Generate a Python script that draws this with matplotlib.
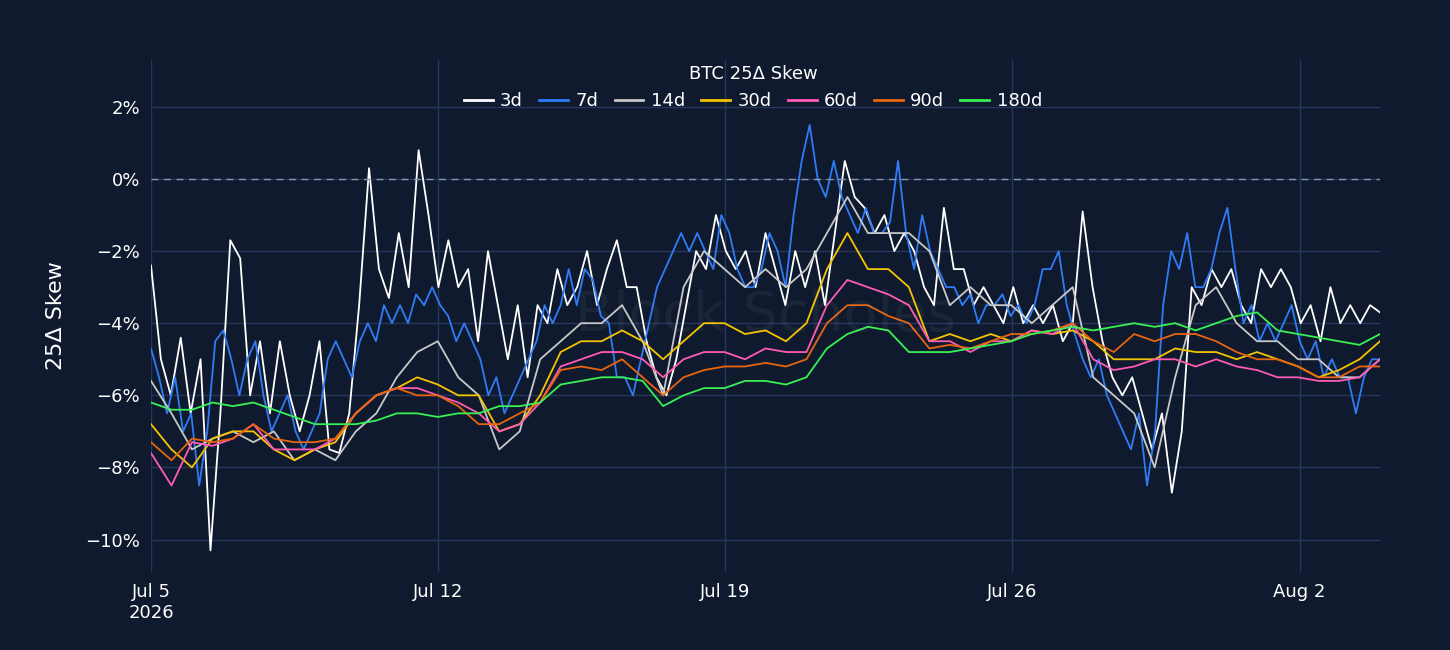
import matplotlib
matplotlib.use('Agg')
import numpy as np
import pandas as pd
import matplotlib.pyplot as plt
import matplotlib.dates as mdates
from matplotlib.ticker import FuncFormatter

start = pd.Timestamp('2026-07-05 00:00')
end = pd.Timestamp('2026-08-03 23:00')

s3d = [-2.4,-5.0,-6.0,-4.4,-6.5,-5.0,-10.3,-6.5,-1.7,-2.2,-6.0,-4.5,-6.5,-4.5,-6.0,-7.0,-6.0,-4.5,-7.5,-7.6,
       -6.5,-3.5,0.3,-2.5,-3.3,-1.5,-3.0,0.8,-1.0,-3.0,-1.7,-3.0,-2.5,-4.5,-2.0,-3.5,-5.0,-3.5,-5.5,-3.5,
       -4.0,-2.5,-3.5,-3.0,-2.0,-3.5,-2.5,-1.7,-3.0,-3.0,-4.5,-5.5,-6.0,-5.0,-3.5,-2.0,-2.5,-1.0,-2.0,-2.5,
       -2.0,-3.0,-1.5,-2.5,-3.5,-2.0,-3.0,-2.0,-3.5,-1.5,0.5,-0.5,-0.8,-1.5,-1.0,-2.0,-1.5,-2.0,-3.0,-3.5,
       -0.8,-2.5,-2.5,-3.5,-3.0,-3.5,-4.0,-3.0,-4.0,-3.5,-4.0,-3.5,-4.5,-4.0,-0.9,-3.0,-4.5,-5.5,-6.0,-5.5,
       -6.5,-7.5,-6.5,-8.7,-7.0,-3.0,-3.5,-2.5,-3.0,-2.5,-3.5,-4.0,-2.5,-3.0,-2.5,-3.0,-4.0,-3.5,-4.5,-3.0,
       -4.0,-3.5,-4.0,-3.5,-3.7]
s7d = [-4.7,-5.5,-6.5,-5.5,-7.0,-6.5,-8.5,-7.0,-4.5,-4.2,-5.0,-6.0,-5.0,-4.5,-6.0,-7.0,-6.5,-6.0,-7.0,-7.5,
       -7.0,-6.5,-5.0,-4.5,-5.0,-5.5,-4.5,-4.0,-4.5,-3.5,-4.0,-3.5,-4.0,-3.2,-3.5,-3.0,-3.5,-3.8,-4.5,-4.0,
       -4.5,-5.0,-6.0,-5.5,-6.5,-6.0,-5.5,-5.0,-4.5,-3.5,-4.0,-3.5,-2.5,-3.5,-2.5,-2.8,-3.8,-4.0,-5.5,-5.5,
       -6.0,-5.0,-4.0,-3.0,-2.5,-2.0,-1.5,-2.0,-1.5,-2.0,-2.5,-1.0,-1.5,-2.5,-3.0,-3.0,-2.5,-1.5,-2.0,-3.0,
       -1.0,0.5,1.5,0.0,-0.5,0.5,-0.5,-1.0,-1.5,-0.8,-1.5,-1.5,-1.2,0.5,-1.5,-2.5,-1.0,-2.0,-2.5,-3.0,
       -3.0,-3.5,-3.2,-4.0,-3.5,-3.5,-3.2,-3.8,-3.5,-4.0,-3.5,-2.5,-2.5,-2.0,-3.5,-4.3,-5.0,-5.5,-5.0,-6.0,
       -6.5,-7.0,-7.5,-6.5,-8.5,-7.0,-3.5,-2.0,-2.5,-1.5,-3.0,-3.0,-2.5,-1.5,-0.8,-2.5,-4.0,-3.5,-4.5,-4.0,
       -4.5,-4.0,-3.5,-4.5,-5.0,-4.5,-5.5,-5.0,-5.5,-5.5,-6.5,-5.5,-5.0,-5.0]
s14d = [-5.6,-6.5,-7.5,-7.2,-7.0,-7.3,-7.0,-7.8,-7.5,-7.8,-7.0,-6.5,-5.5,-4.8,-4.5,-5.5,-6.0,-7.5,-7.0,-5.0,
        -4.5,-4.0,-4.0,-3.5,-4.5,-6.0,-3.0,-2.0,-2.5,-3.0,-2.5,-3.0,-2.5,-1.5,-0.5,-1.5,-1.5,-1.5,-2.0,-3.5,
        -3.0,-3.5,-3.5,-4.0,-3.5,-3.0,-5.5,-6.0,-6.5,-8.0,-5.5,-3.5,-3.0,-4.0,-4.5,-4.5,-5.0,-5.0,-5.5,-5.5,-5.0]
s30d = [-6.8,-7.5,-8.0,-7.2,-7.0,-7.0,-7.5,-7.8,-7.5,-7.3,-6.5,-6.0,-5.8,-5.5,-5.7,-6.0,-6.0,-7.0,-6.8,-6.0,
        -4.8,-4.5,-4.5,-4.2,-4.5,-5.0,-4.5,-4.0,-4.0,-4.3,-4.2,-4.5,-4.0,-2.5,-1.5,-2.5,-2.5,-3.0,-4.5,-4.3,
        -4.5,-4.3,-4.5,-4.2,-4.3,-4.2,-4.5,-5.0,-5.0,-5.0,-4.7,-4.8,-4.8,-5.0,-4.8,-5.0,-5.2,-5.5,-5.3,-5.0,-4.5]
s60d = [-7.6,-8.5,-7.3,-7.4,-7.2,-6.8,-7.5,-7.5,-7.5,-7.2,-6.5,-6.0,-5.8,-5.8,-6.0,-6.2,-6.5,-7.0,-6.8,-6.2,
        -5.2,-5.0,-4.8,-4.8,-5.0,-5.5,-5.0,-4.8,-4.8,-5.0,-4.7,-4.8,-4.8,-3.5,-2.8,-3.0,-3.2,-3.5,-4.5,-4.5,
        -4.8,-4.5,-4.5,-4.2,-4.3,-4.0,-5.0,-5.3,-5.2,-5.0,-5.0,-5.2,-5.0,-5.2,-5.3,-5.5,-5.5,-5.6,-5.6,-5.5,-5.0]
s90d = [-7.3,-7.8,-7.2,-7.3,-7.2,-6.8,-7.2,-7.3,-7.3,-7.2,-6.5,-6.0,-5.8,-6.0,-6.0,-6.3,-6.8,-6.8,-6.5,-6.2,
        -5.3,-5.2,-5.3,-5.0,-5.5,-6.0,-5.5,-5.3,-5.2,-5.2,-5.1,-5.2,-5.0,-4.0,-3.5,-3.5,-3.8,-4.0,-4.7,-4.6,
        -4.7,-4.5,-4.3,-4.3,-4.2,-4.0,-4.5,-4.8,-4.3,-4.5,-4.3,-4.3,-4.5,-4.8,-5.0,-5.0,-5.2,-5.5,-5.5,-5.2,-5.2]
s180d = [-6.2,-6.4,-6.4,-6.2,-6.3,-6.2,-6.4,-6.6,-6.8,-6.8,-6.8,-6.7,-6.5,-6.5,-6.6,-6.5,-6.5,-6.3,-6.3,-6.2,
         -5.7,-5.6,-5.5,-5.5,-5.6,-6.3,-6.0,-5.8,-5.8,-5.6,-5.6,-5.7,-5.5,-4.7,-4.3,-4.1,-4.2,-4.8,-4.8,-4.8,
         -4.7,-4.6,-4.5,-4.3,-4.2,-4.1,-4.2,-4.1,-4.0,-4.1,-4.0,-4.2,-4.0,-3.8,-3.7,-4.2,-4.3,-4.4,-4.5,-4.6,-4.3]

series = [('3d', s3d, '#ffffff'), ('7d', s7d, '#2f7cf6'), ('14d', s14d, '#c8c8c8'),
          ('30d', s30d, '#f5c400'), ('60d', s60d, '#ff5ab4'), ('90d', s90d, '#e8650f'),
          ('180d', s180d, '#39f054')]

bg = '#0f1a2e'
fig = plt.figure(figsize=(14.5, 6.5), dpi=100, facecolor=bg)
ax = fig.add_axes([151/1450, 1-572/650, (1380-151)/1450, 512/650], facecolor=bg)

for name, vals, col in series:
    t = pd.date_range(start, end, periods=len(vals))
    ax.plot(t, vals, color=col, lw=1.3, label=name)

ax.axhline(0, color='#8a96aa', lw=1, ls=(0, (5, 4)))
ax.set_xlim(start, end)
ax.set_ylim(-10.9, 3.3)
ax.set_yticks([-10, -8, -6, -4, -2, 0, 2])
ax.yaxis.set_major_formatter(FuncFormatter(lambda v, p: f"{v:.0f}%".replace('-', '\u2212')))
ticks = pd.to_datetime(['2026-07-05', '2026-07-12', '2026-07-19', '2026-07-26', '2026-08-02'])
ax.set_xticks(ticks)
ax.set_xticklabels(['Jul 5\n2026', 'Jul 12', 'Jul 19', 'Jul 26', 'Aug 2'])
ax.grid(True, color='#26375a', lw=1)
ax.set_axisbelow(True)
for sp in ax.spines.values():
    sp.set_visible(False)
ax.tick_params(colors='white', labelsize=13, length=0, pad=8)
ax.set_ylabel('25Δ Skew', color='white', fontsize=16, labelpad=14)

ax.text(0.5, 0.5, 'Block Scholes', transform=ax.transAxes, ha='center', va='center',
        fontsize=40, color='#ffffff', alpha=0.05)

leg = fig.legend(loc='upper center', bbox_to_anchor=(753/1450, 1-58/650), ncol=7, frameon=False,
                 title='BTC 25Δ Skew', fontsize=13, handlelength=1.6, handletextpad=0.4,
                 columnspacing=0.9, borderaxespad=0)
leg.get_title().set_color('white')
leg.get_title().set_fontsize(13)
for txt in leg.get_texts():
    txt.set_color('white')
for h in leg.get_lines():
    h.set_linewidth(2)

fig.savefig('out.png', dpi=100, facecolor=bg)
